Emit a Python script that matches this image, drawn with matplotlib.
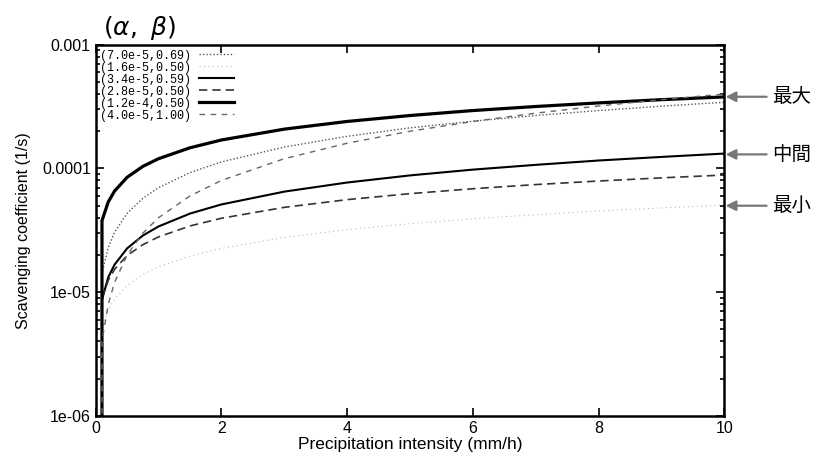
import numpy as np
import matplotlib
matplotlib.use("Agg")
import matplotlib.pyplot as plt
from matplotlib.ticker import FixedLocator, FixedFormatter, LogLocator, NullFormatter, MultipleLocator

# precipitation intensity (mm/h) and scavenging coefficient (1/s)
intensity = [0, 0.1, 0.2, 0.3, 0.5, 0.75, 1, 1.5, 2, 3, 4, 5, 6, 7, 8, 9, 10]

lam_70_069 = [0, 1.43e-5, 2.30e-5, 3.05e-5, 4.34e-5, 5.74e-5, 7.0e-5, 9.26e-5, 1.13e-4,
              1.49e-4, 1.82e-4, 2.13e-4, 2.41e-4, 2.68e-4, 2.94e-4, 3.19e-4, 3.43e-4]
lam_16_050 = [0, 5.1e-6, 7.2e-6, 8.8e-6, 1.13e-5, 1.39e-5, 1.6e-5, 1.96e-5, 2.26e-5,
              2.77e-5, 3.2e-5, 3.58e-5, 3.92e-5, 4.23e-5, 4.53e-5, 4.8e-5, 5.06e-5]
lam_34_059 = [0, 8.7e-6, 1.32e-5, 1.67e-5, 2.26e-5, 2.87e-5, 3.4e-5, 4.32e-5, 5.12e-5,
              6.5e-5, 7.7e-5, 8.79e-5, 9.79e-5, 1.07e-4, 1.16e-4, 1.24e-4, 1.32e-4]
lam_28_050 = [0, 8.9e-6, 1.25e-5, 1.53e-5, 1.98e-5, 2.42e-5, 2.8e-5, 3.43e-5, 3.96e-5,
              4.85e-5, 5.6e-5, 6.26e-5, 6.86e-5, 7.41e-5, 7.92e-5, 8.4e-5, 8.85e-5]
lam_120_050 = [0, 3.79e-5, 5.37e-5, 6.57e-5, 8.49e-5, 1.04e-4, 1.2e-4, 1.47e-4, 1.70e-4,
               2.08e-4, 2.4e-4, 2.68e-4, 2.94e-4, 3.17e-4, 3.39e-4, 3.6e-4, 3.79e-4]
lam_40_100 = [0, 4e-6, 8e-6, 1.2e-5, 2e-5, 3e-5, 4e-5, 6e-5, 8e-5,
              1.2e-4, 1.6e-4, 2e-4, 2.4e-4, 2.8e-4, 3.2e-4, 3.6e-4, 4e-4]

labels = ["(7.0e-5,0.69)", "(1.6e-5,0.50)", "(3.4e-5,0.59)",
          "(2.8e-5,0.50)", "(1.2e-4,0.50)", "(4.0e-5,1.00)"]

ytick_vals = [1e-6, 1e-5, 1e-4, 1e-3]
ytick_labels = ["1e-06", "1e-05", "0.0001", "0.001"]

marks = ["最大", "中間", "最小"]
mark_levels = [3.8e-4, 1.3e-4, 5.0e-5]

plt.rcParams['font.family'] = ['Liberation Sans Narrow', 'Liberation Sans', 'DejaVu Sans']

fig = plt.figure(figsize=(8.25, 4.57), dpi=100)
ax = fig.add_axes([0.116, 0.090, 0.762, 0.812])

series = [lam_70_069, lam_16_050, lam_34_059, lam_28_050, lam_120_050, lam_40_100]
styles = [
    dict(color="#555555", lw=1.0, ls=(0, (1, 1.5))),
    dict(color="#b8b8b8", lw=0.8, ls=(0, (1, 3))),
    dict(color="black", lw=1.5, ls="-"),
    dict(color="#333333", lw=1.2, ls=(0, (5, 3))),
    dict(color="black", lw=2.3, ls="-"),
    dict(color="#666666", lw=1.0, ls=(0, (4, 4))),
]
for ys, lab, st in zip(series, labels, styles):
    ax.plot(intensity, ys, label=lab, **st)

ax.set_yscale("log", nonpositive="clip")
ax.set_xlim(0, 10)
ax.set_ylim(1e-6, 1e-3)

ax.yaxis.set_major_locator(FixedLocator(ytick_vals))
ax.yaxis.set_major_formatter(FixedFormatter(ytick_labels))
ax.yaxis.set_minor_locator(LogLocator(base=10, subs=np.arange(2, 10)))
ax.yaxis.set_minor_formatter(NullFormatter())
ax.xaxis.set_major_locator(MultipleLocator(2))

ax.tick_params(which="both", direction="in", top=True, right=True, width=1.2)
ax.tick_params(which="major", length=6, labelsize=11.5)
ax.tick_params(which="minor", length=3)
for sp in ax.spines.values():
    sp.set_linewidth(1.8)

ax.set_xlabel("Precipitation intensity (mm/h)", fontsize=12.5, labelpad=1)
ax.set_ylabel("Scavenging coefficient (1/s)", fontsize=11.5, labelpad=8)

leg = ax.legend(loc="upper left", frameon=False, markerfirst=False,
                prop={"family": ["Liberation Mono", "DejaVu Sans Mono"], "size": 8.5},
                handlelength=3.0, handletextpad=0.6, labelspacing=0.0,
                borderaxespad=0.3, borderpad=0.1)

fig.text(103 / 825, 1 - 28 / 457, r"$(\alpha,\ \beta)$", fontsize=18,
         ha="left", va="center", family="DejaVu Sans")

for txt, lev in zip(marks, mark_levels):
    ax.annotate(txt, xy=(1.002, lev), xycoords=("axes fraction", "data"),
                xytext=(1.076, lev), textcoords=("axes fraction", "data"),
                ha="left", va="center", fontsize=14, family=["Noto Sans CJK JP"],
                arrowprops=dict(arrowstyle="-|>", color="#777777", lw=1.6,
                                mutation_scale=15, shrinkA=2, shrinkB=0))

fig.savefig("out.png", dpi=100)
